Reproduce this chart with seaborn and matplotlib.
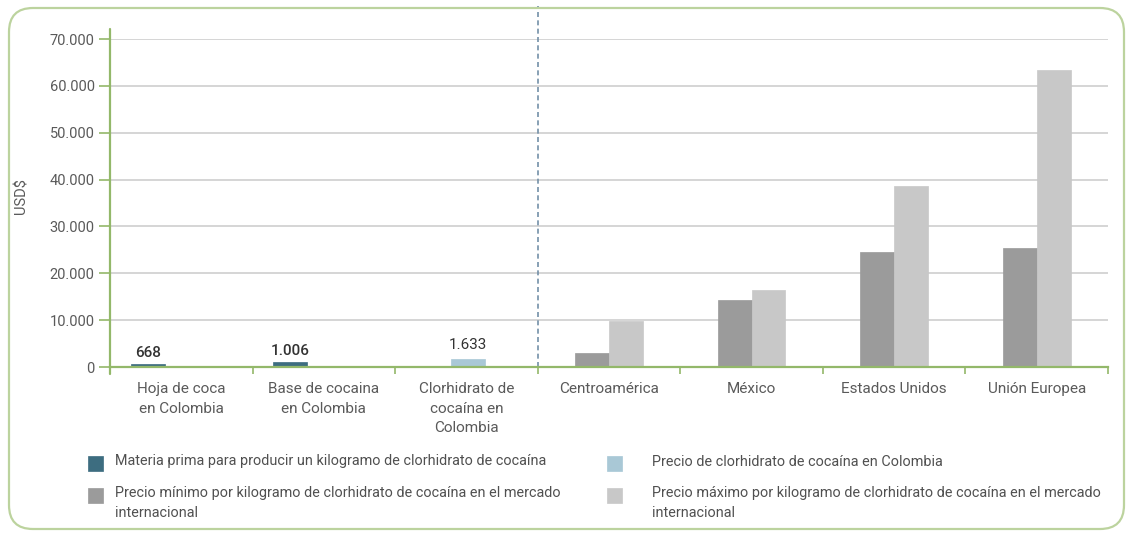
import matplotlib
matplotlib.use("Agg")
import matplotlib.pyplot as plt
from matplotlib.lines import Line2D
from matplotlib.patches import FancyBboxPatch, Rectangle
from matplotlib.transforms import IdentityTransform
import seaborn as sns
import numpy as np

# ---------------- data ----------------
categories = ["Hoja de coca\nen Colombia", "Base de cocaina\nen Colombia",
              "Clorhidrato de\ncocaína en\nColombia", "Centroamérica", "México",
              "Estados Unidos", "Unión Europea"]
materia_idx = [0, 1]
materia_vals = [668, 1006]
materia_labels = ["668", "1.006"]
colombia_idx = [2]
colombia_vals = [1633]
colombia_labels = ["1.633"]
intl_idx = [3, 4, 5, 6]
precio_min = [2900, 14300, 24600, 25500]
precio_max = [9900, 16500, 38600, 63400]
y_ticks = [0, 10000, 20000, 30000, 40000, 50000, 60000, 70000]
y_tick_labels = ["0", "10.000", "20.000", "30.000", "40.000", "50.000", "60.000", "70.000"]
series_names = ["Materia prima para producir un kilogramo de clorhidrato de cocaína",
                "Precio de clorhidrato de cocaína en Colombia",
                "Precio mínimo por kilogramo de clorhidrato de cocaína en el mercado\ninternacional",
                "Precio máximo por kilogramo de clorhidrato de cocaína en el mercado\ninternacional"]

# ---------------- style ----------------
sns.set_theme(style="white")
plt.rcParams["font.family"] = ["Roboto", "DejaVu Sans"]

c_materia = "#3d6d80"
c_colombia = "#a9c8d6"
c_min = "#9b9b9b"
c_max = "#c8c8c8"
green = "#93b86a"
grid_c = "#d2d2d2"
text_c = "#5a5a5a"

W, H = 1130, 533
fig = plt.figure(figsize=(W / 100, H / 100), dpi=100)
ax = fig.add_axes([0.0973, 0.3114, 0.8832, 0.6154])

bw = 0.238
offsets = {"materia": -0.235, "colombia": 0.01, "min": -0.119, "max": 0.119}

def draw(idx, vals, off, color):
    xs = [i + off for i in idx]
    sns.barplot(x=xs, y=vals, native_scale=True, width=bw, color=color,
                saturation=1, ax=ax, errorbar=None, edgecolor=color, linewidth=0.5)
    return ax.containers[-1]

cont_m = draw(materia_idx, materia_vals, offsets["materia"], c_materia)
cont_c = draw(colombia_idx, colombia_vals, offsets["colombia"], c_colombia)
draw(intl_idx, precio_min, offsets["min"], c_min)
draw(intl_idx, precio_max, offsets["max"], c_max)

ax.bar_label(cont_m, labels=materia_labels, padding=3, fontsize=11,
             fontweight="medium", color="#333333")
ax.bar_label(cont_c, labels=colombia_labels, padding=5, fontsize=11,
             color="#333333")

n = len(categories)
ax.set_xlim(-0.5, n - 0.5)
ax.set_ylim(0, 70000)

# grid
ax.set_yticks(y_ticks)
ax.set_yticklabels(y_tick_labels)
ax.yaxis.grid(True, color=grid_c, linewidth=1.3)
ax.xaxis.grid(False)
ax.set_axisbelow(True)

# x ticks: boundaries (major) and labels at centres (minor)
ax.set_xticks(np.arange(-0.5, n, 1.0))
ax.set_xticklabels([""] * (n + 1))
ax.set_xticks(np.arange(n), minor=True)
ax.set_xticklabels(categories, minor=True, fontsize=11, color=text_c,
                   linespacing=1.5)
ax.tick_params(axis="x", which="major", direction="out", length=5, width=1.2,
               color=green, bottom=True)
ax.tick_params(axis="x", which="minor", length=0, pad=11)
ax.tick_params(axis="y", direction="out", length=8, width=1.2, color=green,
               labelsize=10.5, labelcolor=text_c, pad=3, left=True)

for s in ["top", "right", "left"]:
    ax.spines[s].set_visible(False)
ax.spines["bottom"].set_color(green)
ax.spines["bottom"].set_linewidth(1.6)

# y axis line extending slightly beyond plot
ax.add_line(Line2D([0, 0], [-0.02, 1.03], transform=ax.transAxes, color=green,
                   lw=1.6, clip_on=False))
# dashed separator
ax.add_line(Line2D([3 / n, 3 / n], [0, 1.1], transform=ax.transAxes,
                   color="#7390a8", lw=1.2, ls=(0, (3, 2)), clip_on=False))

ax.set_xlabel("")
ax.set_ylabel("USD$", fontsize=10.5, color=text_c, labelpad=4)
ax.yaxis.set_label_coords(-0.082, 0.52)

# legend (drawn manually in pixel layout, two columns)
leg_colors = [c_materia, c_colombia, c_min, c_max]
col_x = [88, 607]          # square left edge (px)
text_dx = [27, 45]         # gap from square left to text
row_y = [462, 494]         # centre of first text line (px from top)
sq = 15
for k, (name, col) in enumerate(zip(series_names, leg_colors)):
    c = k % 2
    r = k // 2
    x0 = col_x[c]
    yc = row_y[r]
    fig.patches.append(Rectangle(((x0) / W, 1 - (yc + sq / 2 + 1) / H), sq / W, sq / H,
                                 transform=fig.transFigure, facecolor=col,
                                 edgecolor=col, lw=0.5))
    fig.text((x0 + text_dx[c]) / W, 1 - (yc - 7.5) / H, name, ha="left", va="top",
             fontsize=10.4, color="#505050", linespacing=1.5)

# rounded frame
frame = FancyBboxPatch((9, 4), 1115, 521, boxstyle="round,pad=0,rounding_size=24",
                       transform=IdentityTransform(), facecolor="none",
                       edgecolor="#bcd39e", lw=1.6)
fig.patches.append(frame)

fig.savefig("out.png", dpi=100)
